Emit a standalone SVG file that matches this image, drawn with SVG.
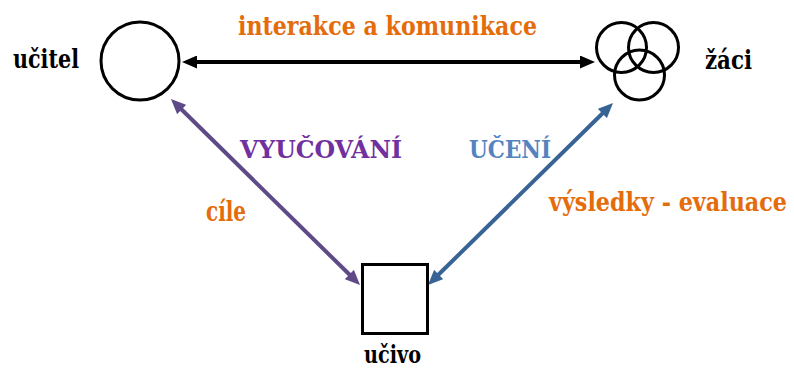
<svg xmlns="http://www.w3.org/2000/svg" width="794" height="371" viewBox="0 0 794 371">
  <style>
    text { font-family: "DejaVu Serif", "Liberation Serif", serif; font-weight: bold; }
    .label { fill: #000000; }
    .orange { fill: #E46C0A; }
    .shape { fill: #ffffff; stroke: #000000; stroke-width: 3; }
    .ring { fill: none; stroke: #000000; stroke-width: 3; }
    .conn { fill: none; stroke-width: 4; }
  </style>
  <defs>
    <marker id="headBlack" markerUnits="userSpaceOnUse" markerWidth="15" markerHeight="13" refX="4" refY="6.5" orient="auto-start-reverse" viewBox="0 0 15 13">
      <path d="M0,0 L15,6.5 L0,13 z" fill="#000000"/>
    </marker>
    <marker id="headPurple" markerUnits="userSpaceOnUse" markerWidth="15" markerHeight="13" refX="4" refY="6.5" orient="auto-start-reverse" viewBox="0 0 15 13">
      <path d="M0,0 L15,6.5 L0,13 z" fill="#5E4A87"/>
    </marker>
    <marker id="headBlue" markerUnits="userSpaceOnUse" markerWidth="15" markerHeight="13" refX="4" refY="6.5" orient="auto-start-reverse" viewBox="0 0 15 13">
      <path d="M0,0 L15,6.5 L0,13 z" fill="#386395"/>
    </marker>
  </defs>
  <rect width="794" height="371" fill="#ffffff"/>

  <!-- connectors with their labels -->
  <g id="connectors">
    <line class="conn" x1="193" y1="62" x2="584" y2="62" stroke="#000000" marker-start="url(#headBlack)" marker-end="url(#headBlack)"/>
    <line class="conn" x1="178.8" y1="106.7" x2="352.2" y2="277.3" stroke="#5E4A87" marker-start="url(#headPurple)" marker-end="url(#headPurple)"/>
    <line class="conn" x1="605.2" y1="110.7" x2="435.8" y2="277.3" stroke="#386395" marker-start="url(#headBlue)" marker-end="url(#headBlue)"/>
    <text class="orange" x="238" y="35" font-size="26" textLength="299" lengthAdjust="spacingAndGlyphs">interakce a komunikace</text>
    <text x="240" y="158" font-size="24" fill="#7030A0" textLength="162" lengthAdjust="spacingAndGlyphs">VYUČOVÁNÍ</text>
    <text x="469" y="158" font-size="24" fill="#5583C0" textLength="82" lengthAdjust="spacingAndGlyphs">UČENÍ</text>
    <text class="orange" x="206" y="221" font-size="27" textLength="40" lengthAdjust="spacingAndGlyphs">cíle</text>
    <text class="orange" x="787" y="211" font-size="26" text-anchor="end" textLength="238" lengthAdjust="spacingAndGlyphs">výsledky - evaluace</text>
  </g>

  <!-- teacher -->
  <g id="ucitel">
    <circle class="shape" cx="140" cy="61" r="39"/>
    <text class="label" x="13" y="68" font-size="26" textLength="66" lengthAdjust="spacingAndGlyphs">učitel</text>
  </g>

  <!-- pupils: three overlapping rings -->
  <g id="zaci">
    <circle class="ring" cx="621.5" cy="47.5" r="25"/>
    <circle class="ring" cx="653.5" cy="47.5" r="25"/>
    <circle class="ring" cx="639.5" cy="75" r="25"/>
    <text class="label" x="705" y="69" font-size="26" textLength="47" lengthAdjust="spacingAndGlyphs">žáci</text>
  </g>

  <!-- subject matter -->
  <g id="ucivo">
    <rect class="shape" x="362.5" y="264.5" width="65" height="69"/>
    <text class="label" x="364" y="363" font-size="24" textLength="57" lengthAdjust="spacingAndGlyphs">učivo</text>
  </g>
</svg>
